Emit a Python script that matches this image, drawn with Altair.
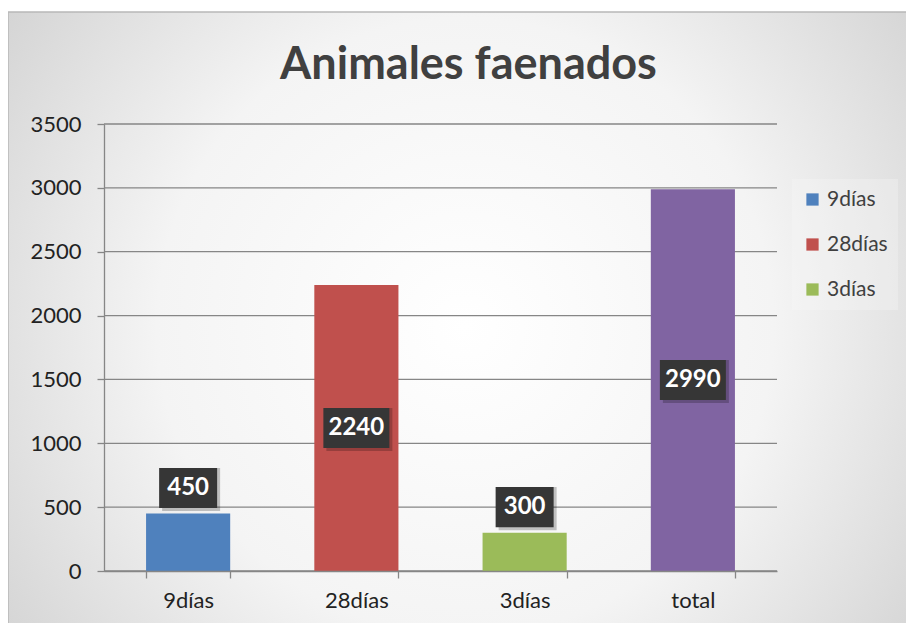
import altair as alt
import pandas as pd

categories = ["9días", "28días", "3días", "total"]
values = [450, 2240, 300, 2990]
colors = ["#4F81BD", "#C0504D", "#9BBB59", "#8064A2"]
legend_items = ["9días", "28días", "3días"]
y_ticks = [0, 500, 1000, 1500, 2000, 2500, 3000, 3500]

df = pd.DataFrame({"cat": categories, "v": values})
grid_df = pd.DataFrame({"t": y_ticks})

W, H = 673, 447
FONT = "Lato"
AX = "#868686"

xs = alt.Scale(domain=categories, paddingInner=0.5, paddingOuter=0.25)
ys = alt.Scale(domain=[0, 3500], nice=False)

x_axis = alt.Axis(labelAngle=0, labelFontSize=22, labelColor="#222222", labelFont=FONT,
                  labelPadding=12, tickBand="extent", tickSize=7, tickColor=AX, tickWidth=1.3,
                  domainColor=AX, domainWidth=1.3, grid=False, zindex=1)
y_axis = alt.Axis(values=y_ticks, format="d", labelFontSize=22, labelColor="#222222", labelFont=FONT,
                  labelPadding=16, tickSize=7, tickColor=AX, tickWidth=1.3,
                  domainColor=AX, domainWidth=1.3, grid=False, zindex=1)

gradient = alt.RadialGradient(
    gradient="radial",
    stops=[alt.GradientStop(offset=0, color="#ffffff"),
           alt.GradientStop(offset=0.45, color="#f4f4f4"),
           alt.GradientStop(offset=1, color="#c4c4c4")],
    x1=0.5, y1=0.5, x2=0.5, y2=0.5, r1=0, r2=0.75)

bg = alt.Chart(pd.DataFrame({"a": [0]})).mark_rect(
    color=gradient, stroke="#b8b8b8", strokeWidth=1.5
).encode(x=alt.value(-96), x2=alt.value(W + 145), y=alt.value(-112), y2=alt.value(H + 70))

grid = alt.Chart(grid_df).mark_rule(color=AX, strokeWidth=1.3).encode(
    y=alt.Y("t:Q", scale=ys, axis=y_axis, title=None))

bars = alt.Chart(df).mark_bar().encode(
    x=alt.X("cat:N", scale=xs, axis=x_axis, title=None, sort=categories),
    y=alt.Y("v:Q", scale=ys, axis=y_axis, title=None),
    color=alt.Color("cat:N", scale=alt.Scale(domain=categories, range=colors),
                    legend=alt.Legend(values=legend_items, title=None, orient="none",
                                      legendX=688, legendY=55, symbolType="square",
                                      symbolSize=150, labelFontSize=21, labelFont=FONT,
                                      labelColor="#404040", rowPadding=23, symbolStrokeWidth=0,
                                      fillColor="rgba(250,250,250,0.3)", padding=10)),
)

lab = alt.Chart(df).transform_calculate(
    ly="datum.v >= 1000 ? datum.v / 2 : datum.v + 200"
).transform_calculate(
    y1="datum.ly - 157", y2="datum.ly + 157"
)

box_shadow_big = lab.transform_filter("datum.v >= 1000").mark_bar(
    width=66, color="black", opacity=0.22, xOffset=3, yOffset=3
).encode(x=alt.X("cat:N", scale=xs, sort=categories), y=alt.Y("y1:Q", scale=ys), y2="y2:Q")
box_shadow_small = lab.transform_filter("datum.v < 1000").mark_bar(
    width=58, color="black", opacity=0.22, xOffset=3, yOffset=3
).encode(x=alt.X("cat:N", scale=xs, sort=categories), y=alt.Y("y1:Q", scale=ys), y2="y2:Q")
box_big = lab.transform_filter("datum.v >= 1000").mark_bar(width=66, color="#363636").encode(
    x=alt.X("cat:N", scale=xs, sort=categories), y=alt.Y("y1:Q", scale=ys), y2="y2:Q")
box_small = lab.transform_filter("datum.v < 1000").mark_bar(width=58, color="#363636").encode(
    x=alt.X("cat:N", scale=xs, sort=categories), y=alt.Y("y1:Q", scale=ys), y2="y2:Q")

text = lab.mark_text(color="white", fontSize=24, fontWeight="bold", font=FONT,
                     baseline="middle", align="center").encode(
    x=alt.X("cat:N", scale=xs, sort=categories), y=alt.Y("ly:Q", scale=ys), text="v:Q")

chart = alt.layer(bg, grid, bars, box_shadow_big, box_shadow_small, box_big, box_small, text).properties(
    width=W, height=H, autosize="none",
    padding={"left": 96, "top": 116, "right": 129, "bottom": 52},
    title=alt.Title("Animales faenados", fontSize=45, font=FONT, fontWeight="bold",
                    color="#404040", anchor="middle", frame="group", offset=-77, dx=28),
).configure_view(stroke=None)

chart.save("out.html", embed_options={"renderer": "svg", "actions": False})
